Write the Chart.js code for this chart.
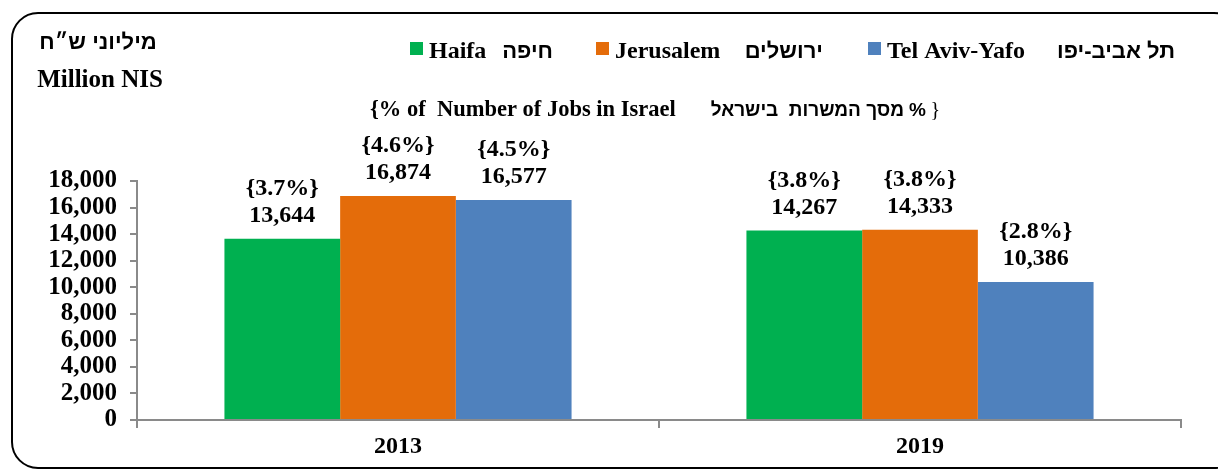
<!DOCTYPE html>
<html>
<head>
<meta charset="utf-8">
<script src="https://cdn.jsdelivr.net/npm/chart.js@4/dist/chart.umd.min.js"></script>
<style>
  html, body { margin: 0; padding: 0; background: #fff; }
  #chart { display: block; }
</style>
</head>
<body>
<canvas id="chart" width="1218" height="472"></canvas>
<script>
// Data
const years = ['2013', '2019'];
const seriesNames = ['Haifa', 'Jerusalem', 'Tel Aviv-Yafo'];
const seriesNamesHe = ['חיפה', 'ירושלים', 'תל אביב-יפו'];
const haifa = [13644, 14267];
const jerusalem = [16874, 14333];
const telAviv = [16577, 10386];
const haifaPct = [3.7, 3.8];
const jerusalemPct = [4.6, 3.8];
const telAvivPct = [4.5, 2.8];
const yTicks = [0, 2000, 4000, 6000, 8000, 10000, 12000, 14000, 16000, 18000];

const colors = ['#00B050', '#E46C0A', '#4F81BD'];
const pcts = [haifaPct, jerusalemPct, telAvivPct];
const serif = '"Liberation Serif", "Times New Roman", serif';
const sans = '"Liberation Sans", Arial, sans-serif';
const axisGray = '#8A8A8A';

// Frame, titles and legend drawn around the chart
const decorations = {
  id: 'decorations',
  beforeDraw(chart) {
    const c = chart.ctx;
    c.save();
    c.strokeStyle = '#000';
    c.lineWidth = 2;
    c.beginPath();
    c.roundRect(12, 13, 1228, 455, 26);
    c.stroke();
    c.restore();
  },
  afterDraw(chart) {
    const c = chart.ctx;
    c.save();
    c.fillStyle = '#000';
    c.textBaseline = 'alphabetic';

    // unit label
    c.font = 'bold 22px ' + sans;
    c.textAlign = 'center';
    c.fillText('מיליוני ש״ח', 98, 49);
    c.font = 'bold 25px ' + serif;
    c.fillText('Million NIS', 100, 87);

    // subtitle
    c.textAlign = 'left';
    c.font = 'bold 22.5px ' + serif;
    c.fillText('{% of  Number of Jobs in Israel', 370, 116);
    c.textAlign = 'right';
    c.font = '20px ' + serif;
    c.fillText('}', 940, 116);
    c.font = 'bold 19px ' + sans;
    c.fillText('%', 926, 116);
    c.fillText('מסך המשרות  בישראל', 904, 116);

    // legend
    const starts = [410, 596, 868];
    const heEnds = [553, 823, 1175];
    chart.data.datasets.forEach((ds, i) => {
      const x = starts[i];
      c.fillStyle = ds.backgroundColor;
      c.fillRect(x, 42, 13, 13);
      c.fillStyle = '#000';
      c.textAlign = 'left';
      c.font = 'bold 24px ' + serif;
      c.fillText(seriesNames[i], x + 19, 58);
      c.textAlign = 'right';
      c.font = 'bold 22px ' + sans;
      c.fillText(seriesNamesHe[i], heEnds[i], 58);
    });

    // value labels above bars
    c.textAlign = 'center';
    c.font = 'bold 24px ' + serif;
    chart.data.datasets.forEach((ds, i) => {
      chart.getDatasetMeta(i).data.forEach((bar, j) => {
        const v = ds.data[j].toLocaleString('en-US');
        const p = '{' + pcts[i][j].toFixed(1) + '%}';
        c.fillText(v, bar.x, bar.y - 17);
        c.fillText(p, bar.x, bar.y - 44);
      });
    });
    c.restore();
  }
};

new Chart(document.getElementById('chart'), {
  type: 'bar',
  data: {
    labels: years,
    datasets: [
      { label: seriesNames[0], data: haifa, backgroundColor: colors[0] },
      { label: seriesNames[1], data: jerusalem, backgroundColor: colors[1] },
      { label: seriesNames[2], data: telAviv, backgroundColor: colors[2] }
    ]
  },
  options: {
    responsive: false,
    animation: false,
    devicePixelRatio: 1,
    layout: { padding: { top: 181, right: 37, left: 0, bottom: 0 } },
    datasets: { bar: { categoryPercentage: 0.665, barPercentage: 1.0 } },
    plugins: {
      legend: { display: false },
      tooltip: { enabled: false }
    },
    scales: {
      x: {
        grid: { offset: true, drawOnChartArea: false, tickLength: 8, color: axisGray, lineWidth: 2 },
        border: { color: axisGray, width: 2 },
        ticks: { color: '#000', font: { family: serif, weight: 'bold', size: 24 }, padding: 4 },
        afterFit(s) { s.height = 52; }
      },
      y: {
        min: 0,
        max: 18000,
        afterBuildTicks(s) { s.ticks = yTicks.map(v => ({ value: v })); },
        grid: { drawOnChartArea: false, tickLength: 7, color: axisGray, lineWidth: 2 },
        border: { color: axisGray, width: 2 },
        ticks: {
          autoSkip: false,
          color: '#000',
          padding: 13,
          font: { family: serif, weight: 'bold', size: 25 },
          callback: v => v.toLocaleString('en-US')
        },
        afterFit(s) { s.width = 137; }
      }
    }
  },
  plugins: [decorations]
});
</script>
</body>
</html>
